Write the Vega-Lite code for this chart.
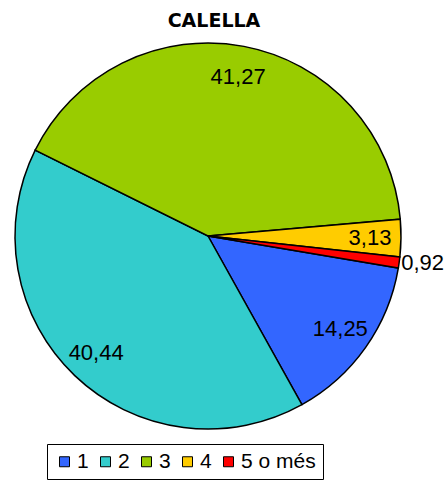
{
  "$schema": "https://vega.github.io/schema/vega-lite/v6.json",
  "width": 416,
  "height": 392,
  "autosize": "none",
  "padding": {"top": 40, "left": 0, "right": 32, "bottom": 49},
  "background": "white",
  "config": {
    "view": {"stroke": null},
    "locale": {"number": {"decimal": ",", "thousands": ".", "grouping": [3], "currency": ["", " €"]}}
  },
  "title": {
    "text": "CALELLA",
    "font": "DejaVu Sans",
    "fontSize": 19,
    "fontWeight": "bold",
    "color": "black",
    "anchor": "middle",
    "frame": "group",
    "baseline": "alphabetic",
    "offset": 12,
    "dx": 6,
    "dy": 25
  },
  "data": {
    "values": [
      {"cat": "1", "idx": 1, "value": 14.25},
      {"cat": "2", "idx": 2, "value": 40.44},
      {"cat": "3", "idx": 3, "value": 41.27},
      {"cat": "4", "idx": 4, "value": 3.13},
      {"cat": "5 o més", "idx": 5, "value": 0.92}
    ]
  },
  "encoding": {
    "theta": {"field": "value", "type": "quantitative", "stack": true, "scale": {"range": [1.738, 8.021]}},
    "order": {"field": "idx", "type": "quantitative"}
  },
  "layer": [
    {
      "mark": {"type": "arc", "radius": 193, "stroke": "black", "strokeWidth": 1.5},
      "encoding": {
        "color": {
          "field": "cat",
          "type": "nominal",
          "scale": {"domain": ["1", "2", "3", "4", "5 o més"], "range": ["#3366FF", "#33CCCC", "#99CC00", "#FFCC00", "#FF0000"]},
          "legend": {
            "title": null,
            "orient": "none",
            "legendX": 47,
            "legendY": 404,
            "direction": "horizontal",
            "symbolType": "square",
            "symbolSize": 100,
            "symbolStrokeColor": "black",
            "symbolStrokeWidth": 1,
            "symbolOpacity": 1,
            "labelFont": "Liberation Sans",
            "labelFontSize": 21,
            "labelColor": "black",
            "labelOffset": 2,
            "columnPadding": 6,
            "padding": 7,
            "strokeColor": "black",
            "fillColor": "white"
          }
        }
      }
    },
    {
      "mark": {"type": "text", "radius": 162, "font": "Liberation Sans", "fontSize": 22, "color": "black", "align": "center", "baseline": "middle"},
      "encoding": {
        "text": {"condition": {"test": "datum.cat === '5 o més'", "value": ""}, "field": "value", "type": "quantitative", "format": ".2f"}
      }
    },
    {
      "mark": {"type": "text", "radius": 195, "font": "Liberation Sans", "fontSize": 22, "color": "black", "align": "left", "baseline": "middle"},
      "encoding": {
        "text": {"condition": {"test": "datum.cat !== '5 o més'", "value": ""}, "field": "value", "type": "quantitative", "format": ".2f"}
      }
    }
  ]
}
